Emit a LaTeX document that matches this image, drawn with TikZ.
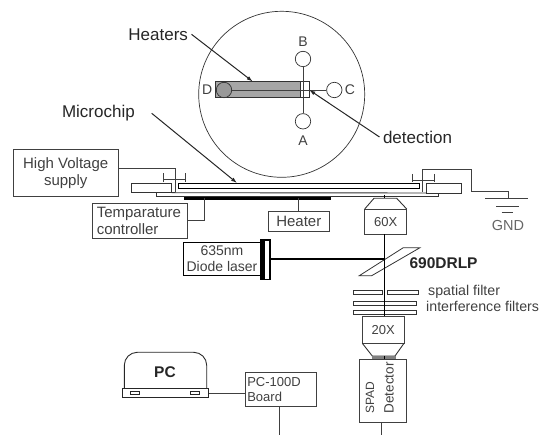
\documentclass[tikz,border=0pt]{standalone}
\usepackage{fontspec}
\setmainfont{Liberation Sans}
\usetikzlibrary{arrows.meta, positioning}
\tikzset{
  boxthin/.style={draw=black!75, line width=0.8pt, inner sep=0pt},
  lab/.style={font=\fontsize{15}{17}\selectfont, text=black!75},
  labsmall/.style={font=\fontsize{13}{15}\selectfont, text=black!75},
  labfilter/.style={font=\fontsize{14.2}{16}\selectfont, text=black!75},
  bigLab/.style={font=\fontsize{17}{19}\selectfont, text=black!85},
  port/.style={circle, draw=black!80, fill=white, line width=0.7pt, minimum size=15.4pt, inner sep=0pt},
  wire/.style={black!75, line width=0.9pt},
  beam/.style={black, line width=1.6pt},
  pointer/.style={black!85, line width=1pt, -{Latex[length=6pt,width=4pt]}}
}
\begin{document}
\begin{tikzpicture}[x=1pt,y=-1pt]
\useasboundingbox (0,0) rectangle (542,435);
% Chip seen from above
\draw[black!80, line width=0.7pt] (281.7,94.3) circle (83);
\fill[black!35] (215.7,81.7) rectangle (300.7,97.7);
\draw[black!80, line width=0.9pt] (215.7,81.7) rectangle (309.3,97.7);
\draw[black!80, line width=0.9pt] (300.7,81.7) -- (300.7,97.7);
\node[port, fill=black!40] (portD) at (224,90) {};
\node[port] (portC) at (334.3,90) {};
\node[port] (portB) at (303,59) {};
\node[port] (portA) at (303,121.3) {};
\draw[wire] (portD) -- (portC);
\draw[wire] (portB) -- (portA);
\node[font=\fontsize{14}{16}\selectfont, text=black!75] at (303,41.7) {B};
\node[font=\fontsize{14}{16}\selectfont, text=black!75] at (303,140.5) {A};
\node[font=\fontsize{14}{16}\selectfont, text=black!75] at (207.3,89.3) {D};
\node[font=\fontsize{14}{16}\selectfont, text=black!75] at (350,89.3) {C};
% Labels with arrows
\node[bigLab, anchor=east] (heaters) at (191.5,34.3) {Heaters};
\coordinate (heaterTip) at (252.7,81.5);
\draw[pointer] (heaters.east) -- (heaterTip);
\node[bigLab, anchor=west] (detection) at (379.5,137) {detection};
\coordinate (detectTip) at (309.3,90);
\draw[pointer] (detection.west) -- (detectTip);
\node[bigLab, anchor=east] (microchip) at (138.3,113.5) {Microchip};
\coordinate (chipTip) at (237,183);
\coordinate (chipTail) at (151.7,113.3);
\draw[pointer] (chipTail) -- (chipTip);
% Microchip side view
\draw[black, line width=0.9pt] (178.3,183.3) rectangle (419,188.3);
\draw[black!80, line width=0.9pt] (131.7,183.3) rectangle (171.7,192.7);
\draw[black!80, line width=0.9pt] (426,183.3) rectangle (461,193);
\draw[black!80, line width=0.9pt] (156,192.7) -- (156,196) -- (438.3,196) -- (438.3,193);
\draw[black!80, line width=0.9pt] (171.7,192.7) -- (426,193);
\draw[black, line width=3pt] (184,198.3) -- (330.7,198.3);
% Electrodes
\node[boxthin, minimum width=104.7pt, minimum height=46.7pt, align=center, lab] (hv) at (65.7,172.7) {High Voltage\\supply};
\coordinate (elecL) at (175,191.7);
\draw[wire] (hv.east |- 0,168.3) -| (elecL);
\draw[wire] (163.3,173.5) -- (163.3,182) (163.3,179.5) -- (185,179.5) (185,173.5) -- (185,182);
\draw[wire] (412,174) -- (412,182.5) (412,180) -- (434,180) (434,174) -- (434,182.5);
% Ground
\node[font=\fontsize{14.5}{16}\selectfont, text=black!60] (gnd) at (508,225.7) {GND};
\draw[wire] (422,191.7) -- (422,169) -- (471.7,169) -- (471.7,191) -- (508.5,191) -- (508.5,198);
\draw[wire] (485,198.3) -- (528.3,198.3);
\draw[wire] (496,206.7) -- (519.3,206.7);
\draw[wire] (501.7,212.7) -- (513.3,212.7);
% Temperature controller and heater
\node[boxthin, minimum width=95.7pt, minimum height=35pt, align=left, lab, text width=86pt] (temp) at (139.8,220.8) {Temparature\\controller};
\coordinate (tempUp) at (204,198.3);
\draw[wire] (temp.east) -| (tempUp);
\node[boxthin, minimum width=61pt, minimum height=20pt, lab] (heater) at (298.8,221) {Heater};
\coordinate (heaterUp) at (298.8,198.3);
\draw[wire] (heater) -- (heaterUp);
% Laser
\node[draw=black, line width=1.3pt, minimum width=77.4pt, minimum height=33.4pt, inner sep=0pt, align=center, font=\fontsize{14}{16}\selectfont, text=black!75] (laser) at (222,259) {635nm\\Diode laser};
\draw[black, line width=1.2pt] (260.7,240) rectangle (270,279.3);
\fill[black] (260.7,240) rectangle (264.5,279.3);
\coordinate (laserOut) at (270,258.8);
\coordinate (beamCross) at (384.3,258.8);
\draw[beam] (laserOut) -- (beamCross);
% 60X objective
\node[boxthin, minimum width=42pt, minimum height=25.3pt, labsmall] (obj60) at (385.7,221.6) {60X};
\draw[black!80, line width=0.9pt] (364.7,209) -- (374,198.3) -- (396.7,198.3) -- (406.7,209);
\draw[black, line width=1.2pt] (384.3,195) -- (384.3,198.3);
% Beam and filters
\coordinate (beamEnd) at (384.3,316.7);
\draw[black!80, line width=0.8pt, fill=white] (359.3,275.7) -- (403.3,247.7) -- (420,247.7) -- (371.7,275.7) -- cycle;
\draw[beam] (384.3,234.3) -- (beamEnd);
\node[font=\fontsize{15.5}{17}\selectfont\bfseries, text=black!85, anchor=west] at (406,263.5) {690DRLP};
\draw[black!80, line width=0.8pt] (353.3,290.7) rectangle (382,294) (387,290.7) rectangle (418.3,294);
\draw[black!80, line width=0.8pt] (353,301.7) rectangle (416,305.7);
\draw[black!80, line width=0.8pt] (353,310) rectangle (416,314);
\draw[beam] (384.3,290) -- (384.3,316.7);
\node[labfilter, anchor=west] at (424.7,291.7) {spatial filter};
\node[labfilter, anchor=west] at (422.7,306.7) {interference filters};
% 20X objective and detector
\node[boxthin, minimum width=41.7pt, minimum height=26.6pt, labsmall] (obj20) at (383.2,330) {20X};
\draw[black!80, line width=0.9pt] (362.3,343.3) -- (372.3,356) -- (395,356) -- (404,343.3);
\fill[black!50] (371.7,356) rectangle (395.7,359);
\draw[beam] (384.3,356) -- (384.3,359);
\node[boxthin, minimum width=47.4pt, minimum height=63.7pt] (spad) at (383,390.8) {};
\node[font=\fontsize{12}{14}\selectfont, text=black!75, rotate=90, anchor=west] at (370,417) {SPAD};
\node[font=\fontsize{13.5}{15}\selectfont, text=black!75, rotate=90, anchor=west] at (389,417) {Detector};
\coordinate (spadOut) at (381.7,435);
\draw[wire] (spad.south -| spadOut) -- (spadOut);
% PC
\draw[black!85, line width=0.9pt, rounded corners=13pt] (124.3,389) -- (124.3,352.3) -- (206.7,352.3) -- (206.7,389);
\node[draw=black!85, line width=0.9pt, minimum width=86pt, minimum height=8.7pt, inner sep=0pt] (pcBase) at (165.3,393.3) {};
\draw[black!85, line width=0.7pt] (130,391) rectangle (139.3,394.3);
\draw[black!85, line width=0.7pt] (190.7,391) rectangle (199,394.3);
\node[font=\fontsize{15.5}{17}\selectfont\bfseries, text=black!85] (pc) at (165,372.3) {PC};
\node[boxthin, minimum width=70.3pt, minimum height=34pt, align=left, labsmall, text width=67pt] (board) at (280.8,389.7) {PC-100D\\Board};
\draw[wire] (pcBase.east) -- (board.west |- pcBase.east);
\coordinate (boardOut) at (279,435);
\draw[wire] (board.south -| boardOut) -- (boardOut);
\end{tikzpicture}
\end{document}
